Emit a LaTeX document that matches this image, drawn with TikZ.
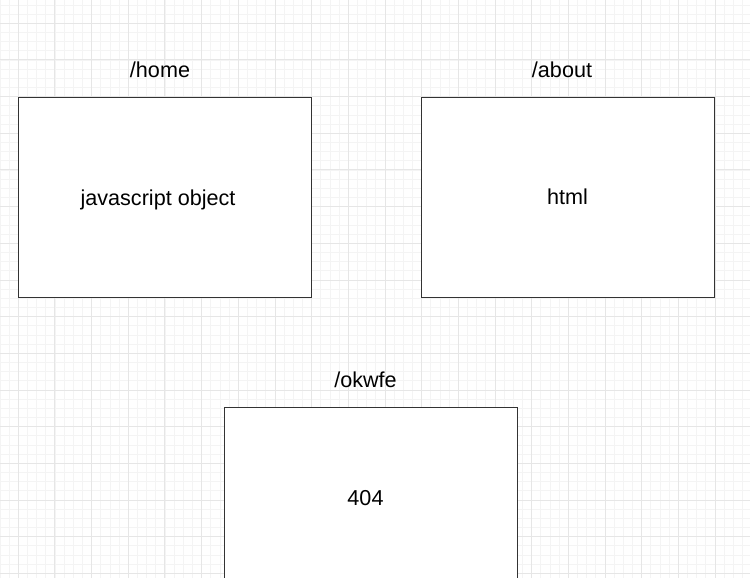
\documentclass[tikz,border=0pt]{standalone}
\usepackage{fontspec}
\setmainfont{Liberation Sans}
\usepackage{tikz}
\definecolor{minorgrid}{HTML}{F4F4F4}
\definecolor{majorgrid}{HTML}{E6E6E6}
\definecolor{boxline}{HTML}{333333}

\begin{document}
\begin{tikzpicture}[x=0.75pt, y=-0.75pt, font=\fontsize{16.2}{19}\selectfont]
      \tikzstyle{route box}=[draw=boxline, line width=0.75pt, fill=white, minimum width=219.75pt, minimum height=150pt, inner sep=0pt]
      \tikzstyle{route text}=[inner sep=0pt, anchor=base]

      \useasboundingbox (0, 0) rectangle (750, 578);
      \clip (0, 0) rectangle (750, 578);
      \fill[white] (0, 0) rectangle (750, 578);

      % background grid
      \foreach \i in {0,...,81}
        \draw[minorgrid, line width=0.75pt] (9.1667*\i, 0) -- (9.1667*\i, 578);
      \foreach \j in {0,...,62}
        \draw[minorgrid, line width=0.75pt] (0, 5+9.1667*\j) -- (750, 5+9.1667*\j);
      \foreach \i in {0,...,20}
        \draw[majorgrid, line width=0.75pt] (18.33+36.667*\i, 0) -- (18.33+36.667*\i, 578);
      \foreach \j in {0,...,15}
        \draw[majorgrid, line width=0.75pt] (0, 23.33+36.667*\j) -- (750, 23.33+36.667*\j);

      \node[route box] (home) at (164.5, 197) {};
      \node[route box] (about) at (567.5, 197) {};
      \node[route box] (okwfe) at (370.5, 507) {};

      \node[route text] (homelabel) at (160, 77.5) {/home};
      \node[route text] (aboutlabel) at (562, 77.5) {/about};
      \node[route text] (okwfelabel) at (365.5, 387.5) {/okwfe};

      \node[route text] (hometext) at (158, 205) {javascript object};
      \node[route text] (abouttext) at (567.5, 204) {html};
      \node[route text] (okwfetext) at (365.5, 505.5) {404};
  \end{tikzpicture}
\end{document}
